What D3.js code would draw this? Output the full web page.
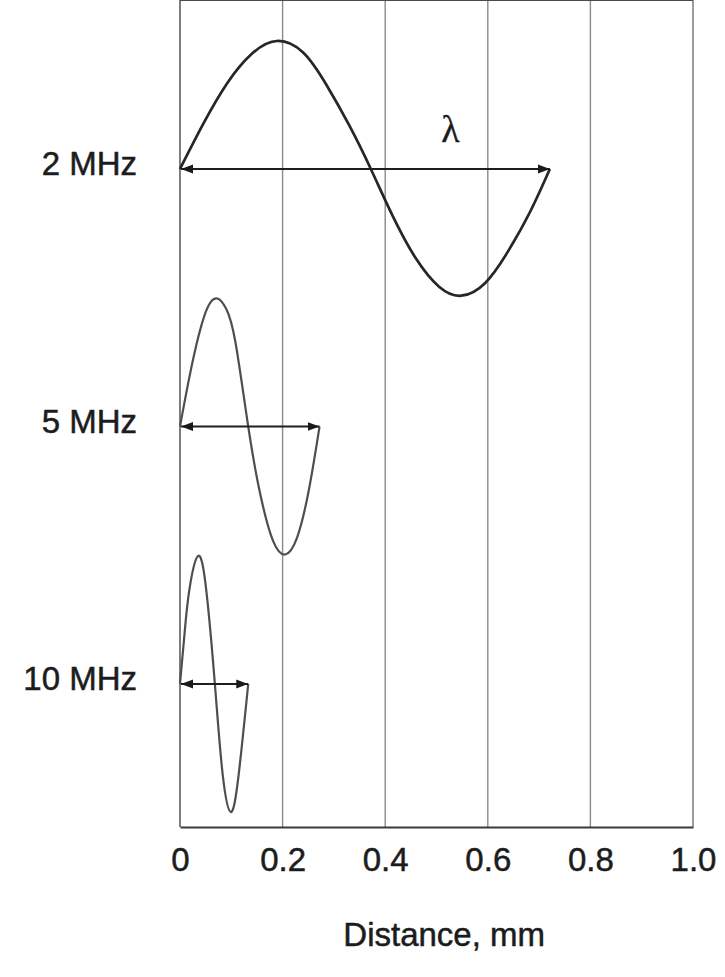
<!DOCTYPE html>
<html>
<head>
<meta charset="utf-8">
<script src="https://cdn.jsdelivr.net/npm/d3@7/dist/d3.min.js"></script>
<style>
  body { margin: 0; background: #fff; }
  svg text { font-family: "Liberation Sans", Arial, Helvetica, sans-serif; fill: #1c1c1c; stroke: #1c1c1c; stroke-width: 0.5px; }
</style>
</head>
<body>
<svg id="chart" width="725" height="977"></svg>
<script>
var rows = ["2 MHz", "5 MHz", "10 MHz"];
var xTicks = [0, 0.2, 0.4, 0.6, 0.8, 1.0];
var tickLabels = ["0", "0.2", "0.4", "0.6", "0.8", "1.0"];
var xTitle = "Distance, mm";

// one wavelength per trace, mm
var wavelengths = [0.721, 0.272, 0.133];

// distance (mm) and relative amplitude
var wave2x = [0, 0.045, 0.092, 0.140, 0.189, 0.240, 0.285, 0.330, 0.372, 0.415, 0.460, 0.505, 0.548, 0.595, 0.640, 0.683, 0.721];
var wave2y = [0, 0.35, 0.67, 0.90, 1.0, 0.91, 0.66, 0.34, 0, -0.37, -0.70, -0.92, -0.99, -0.89, -0.64, -0.33, 0];
var wave5x = [0, 0.018, 0.037, 0.055, 0.073, 0.090, 0.108, 0.133, 0.156, 0.181, 0.205, 0.228, 0.251, 0.272];
var wave5y = [0, 0.38, 0.72, 0.94, 1.0, 0.92, 0.66, 0, -0.52, -0.89, -1.0, -0.87, -0.50, 0];
var wave10x = [0, 0.009, 0.018, 0.035, 0.051, 0.068, 0.083, 0.099, 0.114, 0.133];
var wave10y = [0, 0.40, 0.73, 1.0, 0.74, 0, -0.70, -1.0, -0.72, 0];

var waves = [
  { row: rows[0], xs: wave2x, ys: wave2y, lambda: wavelengths[0] },
  { row: rows[1], xs: wave5x, ys: wave5y, lambda: wavelengths[1] },
  { row: rows[2], xs: wave10x, ys: wave10y, lambda: wavelengths[2] }
];

var svg = d3.select("#chart"),
    top = 8,
    bottom = 827,
    x = d3.scaleLinear().domain([0, 1]).range([180, 693]),
    row = d3.scalePoint().domain(rows).range([169, 684]),
    amp = d3.scaleLinear().domain([-1, 1]).range([128, -128]);

var defs = svg.append("defs");
function marker(id, path) {
  defs.append("marker")
      .attr("id", id)
      .attr("viewBox", "0 0 12 10")
      .attr("refX", id === "head" ? 12 : 0)
      .attr("refY", 5)
      .attr("markerUnits", "userSpaceOnUse")
      .attr("markerWidth", 12)
      .attr("markerHeight", 10)
      .attr("orient", "auto")
    .append("path")
      .attr("d", path)
      .attr("fill", "#1a1a1a");
}
marker("head", "M0,0.5 L12,5 L0,9.5 Z");
marker("tail", "M12,0.5 L0,5 L12,9.5 Z");

// vertical grid
svg.append("g").attr("class", "grid")
  .selectAll("line").data(xTicks.slice(1, -1))
  .enter().append("line")
    .attr("x1", function (d) { return x(d); })
    .attr("x2", function (d) { return x(d); })
    .attr("y1", top)
    .attr("y2", bottom)
    .attr("stroke", "#8a8a8a")
    .attr("stroke-width", 1.4);

// frame
svg.append("line").attr("x1", x(0)).attr("x2", x(0)).attr("y1", top).attr("y2", bottom)
  .attr("stroke", "#666").attr("stroke-width", 1.7);
svg.append("line").attr("x1", x(1)).attr("x2", x(1)).attr("y1", top).attr("y2", bottom)
  .attr("stroke", "#7a7a7a").attr("stroke-width", 1.5);
svg.append("line").attr("x1", x(0)).attr("x2", x(1)).attr("y1", top).attr("y2", top)
  .attr("stroke", "#4a4a4a").attr("stroke-width", 2);

// x axis
var axis = svg.append("g")
    .attr("transform", "translate(0," + bottom + ")")
    .call(d3.axisBottom(x)
      .tickValues(xTicks)
      .tickFormat(function (d, i) { return tickLabels[i]; })
      .tickSize(0)
      .tickPadding(21));
axis.select(".domain").attr("stroke", "#3a3a3a").attr("stroke-width", 2.2);
axis.selectAll("text").style("font-size", "33px").attr("fill", "#1c1c1c");

svg.append("text")
    .attr("x", x(0.515))
    .attr("y", 946)
    .attr("text-anchor", "middle")
    .style("font-size", "33px")
    .text(xTitle);

// traces
var line = d3.line().curve(d3.curveNatural);

svg.append("g").selectAll("path").data(waves)
  .enter().append("path")
    .attr("fill", "none")
    .attr("stroke", function (d, i) { return i === 0 ? "#262626" : "#4e4e4e"; })
    .attr("stroke-width", function (d, i) { return i === 0 ? 2.7 : 2.2; })
    .attr("d", function (d) {
      var base = row(d.row);
      return line(d.xs.map(function (v, i) { return [x(v), base + amp(d.ys[i])]; }));
    });

// wavelength arrows
svg.append("g").selectAll("line").data(waves)
  .enter().append("line")
    .attr("x1", x(0) + 1)
    .attr("x2", function (d) { return x(d.lambda); })
    .attr("y1", function (d) { return row(d.row); })
    .attr("y2", function (d) { return row(d.row); })
    .attr("stroke", "#1e1e1e")
    .attr("stroke-width", 1.9)
    .attr("marker-start", "url(#tail)")
    .attr("marker-end", "url(#head)");

// row labels
svg.append("g").selectAll("text").data(rows)
  .enter().append("text")
    .attr("x", 137)
    .attr("y", function (d) { return row(d) + 6; })
    .attr("text-anchor", "end")
    .style("font-size", "33px")
    .text(function (d) { return d; });

svg.append("text")
    .attr("x", x(0.527))
    .attr("y", 142)
    .attr("text-anchor", "middle")
    .style("font-family", "'Liberation Serif', 'DejaVu Serif', serif")
    .style("font-size", "38px")
    .style("stroke-width", "0.3px")
    .text("\u03bb");
</script>
</body>
</html>
